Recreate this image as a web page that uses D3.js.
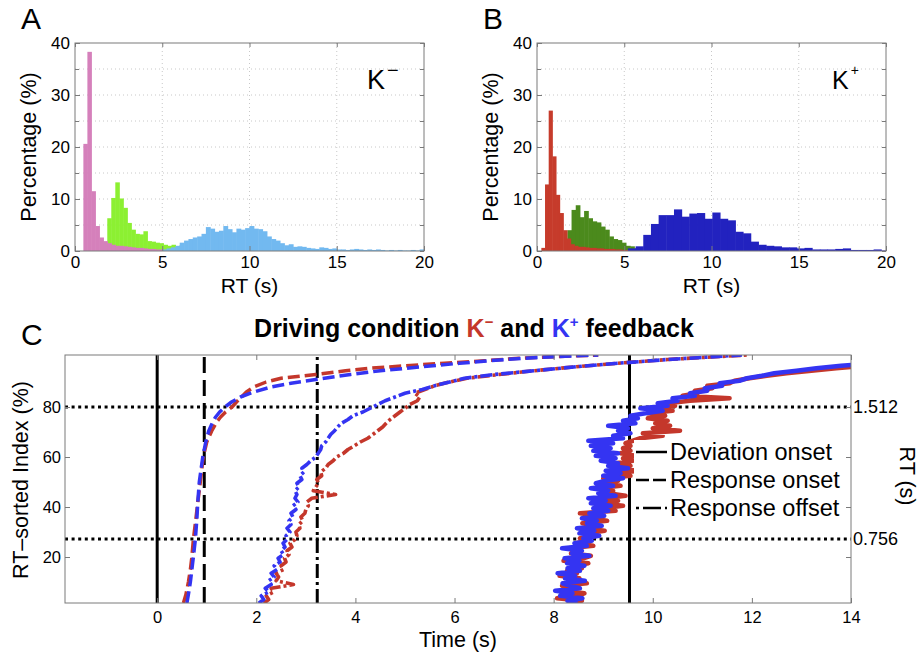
<!DOCTYPE html>
<html><head><meta charset="utf-8">
<script src="https://cdn.jsdelivr.net/npm/d3@7"></script>
<style>body{margin:0;background:#fff}text{font-family:'Liberation Sans',Arial,Helvetica,sans-serif}</style>
</head><body>
<svg id="c" width="919" height="657"></svg>
<script>
// ================= DATA =================
const histTicksX = [0, 5, 10, 15, 20];
const histTicksY = [0, 10, 20, 30, 40];
const histMinorY = [5, 15, 25, 35];

// Panel A  (K-)  — RT histograms, percentage per bin
const aPinkStart = 0.48, aPinkWidth = 0.23;
const aPinkPct = [20.6, 38.3, 11.5, 4.8, 2.6, 1.9, 1.5, 1.2, 1.0, 1.0, 0.9, 0.8, 0.7, 0.6, 0.6, 0.5, 0.4, 0.4, 0.3, 0.3, 0.2, 0.2];
const aGreenStart = 1.62, aGreenWidth = 0.23;
const aGreenPct = [1.5, 6.3, 10.2, 13.2, 10.1, 8.3, 5.4, 4.1, 3.3, 3.2, 3.8, 1.9, 1.8, 1.6, 1.5, 1.2, 1.0, 1.2, 0.8, 1.1];
const aBlueStart = 5.0, aBlueWidth = 0.25;
const aBluePct = [0.3, 0.5, 0.7, 1.0, 1.6, 2.0, 2.3, 2.6, 2.8, 3.3, 4.6, 4.3, 3.7, 3.9, 4.8, 4.2, 3.6, 4.3, 4.1, 4.4,
  4.8, 4.3, 4.2, 3.8, 2.8, 2.3, 2.0, 1.5, 1.1, 1.3, 0.8, 0.9, 0.8, 0.6, 0.5, 0.4, 0.7, 0.6, 0.4, 0.5,
  0.3, 0.3, 0.2, 0.3, 0.4, 0.3, 0.2, 0.3, 0.2, 0.3, 0.2, 0.1, 0.2, 0.1, 0.2, 0.1, 0.1, 0.2, 0.1, 0.3];

// Panel B  (K+)
const bRedStart = 0.25, bRedWidth = 0.21;
const bRedPct = [0.6, 12.8, 27.0, 18.2, 10.8, 7.3, 4.0, 2.4, 1.3, 1.0, 0.8, 0.8, 0.7, 0.6, 0.6, 0.5, 0.5, 0.4, 0.4, 0.4, 0.3, 0.3, 0.2, 0.2];
const bGreenStart = 1.74, bGreenWidth = 0.24;
const bGreenPct = [4.0, 7.9, 8.8, 6.5, 7.7, 6.3, 5.7, 5.5, 4.7, 4.1, 2.8, 2.3, 2.1, 1.6, 1.0, 0.9, 0.5];
const bBlueStart = 5.21, bBlueWidth = 0.44;
const bBluePct = [0.5, 0.9, 3.1, 5.2, 6.9, 6.9, 8.0, 6.6, 7.2, 7.3, 6.2, 7.4, 6.2, 5.9, 3.7, 3.4, 1.8, 1.2, 1.0, 0.9,
  0.7, 0.7, 0.5, 0.6, 0.3, 0.3, 0.3, 0.4, 0.5, 0.2, 0.2, 0.2, 0.3, 0.1];

// Panel C
const cTicksX = [0, 2, 4, 6, 8, 10, 12, 14];
const cTicksY = [20, 40, 60, 80];
const cThreshIdx = [80, 27.2];
const cThreshRT = ["1.512", "0.756"];
const devOnsetLines = [0, 9.53];
const respOnsetLines = [0.95];
const respOffsetLines = [3.23];
const legendLabels = ["Deviation onset", "Response onset", "Response offset"];

// curves: [time (s), RT-sorted index (%)]
const onsetRed = [[0.53,1.6],[0.58,5],[0.63,10],[0.67,15],[0.70,20],[0.73,27],[0.78,35],[0.82,42],[0.87,50],[0.93,60],[1.0,66],[1.1,70.4],[1.2,74],[1.28,76],[1.38,78],[1.51,80],[1.6,82],[1.7,84],[1.8,86],[1.95,88],[2.2,90],[2.5,91.5],[3.2,93],[3.8,94.5],[4.3,95.5],[5.0,96.5],[5.8,97.5],[6.6,98.5],[7.3,99.5],[8.1,100.2],[8.9,100.8]];
const onsetBlue = [[0.6,1.6],[0.63,5],[0.67,10],[0.70,15],[0.73,20],[0.77,27],[0.80,35],[0.82,42],[0.85,50],[0.92,60],[0.98,66],[1.04,70.4],[1.12,74],[1.18,76],[1.26,78],[1.37,80],[1.5,82],[1.68,84],[1.95,86],[2.3,88],[2.7,89.5],[3.2,91],[3.9,93],[4.5,94.5],[5.3,96],[6.1,97.5],[6.7,98.5],[7.4,99.5],[8.1,100.2],[8.9,100.8]];

const offsetRed = [[2.15,1.5],[2.25,3],[2.2,4.5],[2.35,6],[2.3,7.5],[2.75,9],[2.4,10.5],[2.45,12],[2.4,13.5],[2.55,15],[2.5,16.5],[2.6,18],[2.57,19.5],[2.66,21],[2.62,22.5],[2.72,24],[2.68,25.5],[2.78,27],[2.82,28.5],[2.8,30],[2.88,31.5],[2.86,33],[2.94,34.5],[2.9,36],[2.98,37.5],[3.0,39],[3.05,40.5],[3.02,42],[3.12,43.5],[3.6,45],[3.15,46.5],[3.2,48],[3.26,49.5],[3.22,51],[3.32,52.5],[3.3,54],[3.4,55.5],[3.45,57],[3.55,58.5],[3.62,60],[3.76,61.5],[3.85,63],[3.98,64.5],[4.1,66],[4.25,67.5],[4.35,69],[4.45,70.5],[4.55,72],[4.62,73.5],[4.7,75],[4.8,76.5],[4.9,78],[5.0,79.5],[5.1,81],[5.25,82.5],[5.3,84],[5.2,85.5],[5.4,87],[5.6,88.5],[5.9,90],[6.25,91.5],[6.9,93],[7.6,94.5],[8.4,96],[9.3,97.5],[10.3,99],[11.9,100.8]];
const offsetBlue = [[2.05,1.5],[2.15,3],[2.1,4.5],[2.25,6],[2.18,7.5],[2.3,9],[2.25,10.5],[2.36,12],[2.3,13.5],[2.42,15],[2.36,16.5],[2.48,18],[2.44,19.5],[2.55,21],[2.5,22.5],[2.58,24],[2.54,25.5],[2.62,27],[2.6,28.5],[2.68,30],[2.62,31.5],[2.7,33],[2.66,34.5],[2.74,36],[2.7,37.5],[2.8,39],[2.74,40.5],[2.84,42],[2.78,43.5],[2.82,45],[2.78,46.5],[2.86,48],[2.82,49.5],[2.92,51],[2.88,52.5],[2.96,54],[2.92,55.5],[3.02,57],[3.1,58.5],[3.2,60],[3.25,61.5],[3.3,63],[3.32,64.5],[3.4,66],[3.45,67.5],[3.5,69],[3.58,70.5],[3.64,72],[3.72,73.5],[3.85,75],[3.95,76.5],[4.15,78],[4.3,79.5],[4.45,81],[4.6,82.5],[4.8,84],[5.0,85.5],[5.35,87],[5.6,88.5],[5.9,90],[6.2,91.5],[6.8,93],[7.6,94.5],[8.4,96],[9.3,97.5],[10.3,99],[11.8,100.8]];

const devRed = [[8.27,1.5],[8.57,2.5],[8.07,3.5],[8.47,4.5],[8.62,5.5],[8.22,6.5],[8.42,7.5],[8.17,8.5],[8.67,9.5],[8.32,10.5],[8.52,11.5],[8.12,12.5],[8.47,13.5],[8.27,14.5],[8.57,15.5],[8.4,16.5],[8.7,17.5],[8.2,18.5],[8.6,19.5],[8.75,20.5],[8.35,21.5],[8.55,22.5],[8.3,23.5],[8.8,24.5],[8.45,25.5],[8.65,26.5],[8.53,27.5],[8.88,28.5],[8.68,29.5],[9.03,30.5],[8.63,31.5],[8.83,32.5],[8.58,33.5],[9.08,34.5],[8.73,35.5],[8.93,36.5],[8.53,37.5],[9.25,38.5],[9.0,39.5],[9.4,40.5],[8.95,41.5],[9.3,42.5],[9.05,43.5],[9.45,44.5],[9.1,45.5],[9.2,46.5],[8.9,47.5],[9.35,48.5],[9.05,49.5],[9.3,50.5],[9.0,51.5],[9.55,52.5],[9.3,53.5],[9.7,54.5],[9.35,55.5],[9.55,56.5],[9.25,57.5],[9.6,58.5],[9.4,59.5],[9.65,60.5],[9.35,61.5],[9.55,62.5],[9.4,63.5],[9.55,64.5],[9.45,65.5],[9.6,66.5],[9.75,67.5],[10.2,68.5],[9.8,69.5],[10.55,70.5],[10.0,71.5],[10.35,72.5],[10.05,73.5],[10.3,74.5],[9.9,75.5],[10.25,76.5],[9.9,77.5],[10.4,78.5],[10.0,79.5],[10.45,80.5],[10.3,81.5],[10.75,82.5],[11.55,83.5],[10.6,84.5],[10.9,85.5],[10.85,86.5],[11.2,87.5],[11.1,88.5],[11.55,89.5],[11.65,90.5],[11.95,91.5],[12.3,92.5],[12.7,93.5],[13.2,94.5],[13.7,95.5],[14.3,96.5]];
const devBlue = [[8.48,1.5],[8.28,2.5],[8.58,3.5],[8.13,4.5],[8.38,5.5],[8.03,6.5],[8.53,7.5],[8.33,8.5],[8.18,9.5],[8.63,10.5],[8.23,11.5],[8.43,12.5],[8.08,13.5],[8.53,14.5],[8.28,15.5],[8.62,16.5],[8.27,17.5],[8.52,18.5],[8.22,19.5],[8.72,20.5],[8.37,21.5],[8.57,22.5],[8.17,23.5],[8.67,24.5],[8.42,25.5],[8.77,26.5],[8.6,27.5],[8.92,28.5],[8.52,29.5],[8.82,30.5],[8.47,31.5],[8.97,32.5],[8.67,33.5],[8.87,34.5],[8.57,35.5],[9.02,36.5],[8.72,37.5],[9.1,38.5],[8.8,39.5],[9.15,40.5],[8.75,41.5],[9.05,42.5],[8.7,43.5],[9.25,44.5],[8.9,45.5],[9.1,46.5],[8.75,47.5],[9.2,48.5],[8.85,49.5],[9.05,50.5],[9.4,51.5],[9.0,52.5],[9.35,53.5],[9.05,54.5],[9.5,55.5],[9.1,56.5],[9.3,57.5],[8.95,58.5],[9.25,59.5],[8.85,60.5],[9.3,61.5],[8.8,62.5],[9.15,63.5],[8.75,64.5],[9.2,65.5],[8.7,66.5],[9.4,67.5],[9.2,68.5],[9.55,69.5],[9.3,70.5],[9.5,71.5],[9.1,72.5],[9.65,73.5],[9.4,74.5],[9.7,75.5],[9.55,76.5],[9.85,77.5],[10.2,78.5],[9.75,79.5],[10.3,80.5],[10.1,81.5],[10.5,82.5],[10.4,83.5],[10.85,84.5],[10.75,85.5],[11.1,86.5],[11.05,87.5],[11.4,88.5],[11.35,89.5],[11.75,90.5],[11.9,91.5],[12.2,92.5],[12.45,93.5],[12.9,94.5],[13.3,95.5],[13.8,96.5],[14.4,97.5]];

// ================= DRAW =================
const svg = d3.select("#c");
const GREY = "#7a7a7a";
const C_RED = "#c4372b", C_BLUE = "#3434f2";

function histPanel(x0, x1, id, series, label, sup, supDy, supSize, kFont, kx) {
  const x = d3.scaleLinear().domain([0, 20]).range([x0, x1]);
  const y = d3.scaleLinear().domain([0, 40]).range([251, 43]);
  const g = svg.append("g");
  g.append("clipPath").attr("id", id).append("rect")
    .attr("x", x0).attr("y", 43).attr("width", x1 - x0).attr("height", 208);
  const grid = g.append("g").attr("stroke", "#c8c8c8").attr("stroke-width", 1).attr("stroke-dasharray", "1,3");
  grid.selectAll(null).data([5, 10, 15]).enter().append("line")
    .attr("x1", d => x(d)).attr("x2", d => x(d)).attr("y1", y(40)).attr("y2", y(0));
  grid.selectAll(null).data([5, 10, 15, 20, 25, 30, 35]).enter().append("line")
    .attr("x1", x(0)).attr("x2", x(20)).attr("y1", d => y(d)).attr("y2", d => y(d));
  const bars = g.append("g").attr("clip-path", `url(#${id})`);
  series.forEach(s => {
    bars.append("g").selectAll("rect").data(s.values).enter().append("rect")
      .attr("x", (d, i) => x(s.start + i * s.width))
      .attr("width", (d, i) => x(s.start + (i + 1) * s.width) - x(s.start + i * s.width) + 0.5)
      .attr("y", d => y(d)).attr("height", d => y(0) - y(d))
      .attr("fill", s.color);
  });
  g.append("rect").attr("x", x0).attr("y", 43).attr("width", x1 - x0).attr("height", 208)
    .attr("fill", "none").attr("stroke", GREY).attr("stroke-width", 1);
  const ax = g.append("g").attr("transform", `translate(0,${y(0)})`)
    .call(d3.axisBottom(x).tickValues(histTicksX).tickSizeInner(-5).tickSizeOuter(0).tickPadding(5));
  const ay = g.append("g").attr("transform", `translate(${x0},0)`)
    .call(d3.axisLeft(y).tickValues(histTicksY).tickSizeInner(-5).tickSizeOuter(0).tickPadding(5));
  const ay2 = g.append("g").attr("transform", `translate(${x0},0)`)
    .call(d3.axisLeft(y).tickValues(histMinorY).tickFormat("").tickSizeInner(-4).tickSizeOuter(0));
  const ar = g.append("g").attr("transform", `translate(${x1},0)`)
    .call(d3.axisRight(y).tickValues(histTicksY.concat(histMinorY)).tickFormat("").tickSizeInner(-4).tickSizeOuter(0));
  const at = g.append("g").attr("transform", `translate(0,${y(40)})`)
    .call(d3.axisTop(x).tickValues(histTicksX).tickFormat("").tickSizeInner(-4).tickSizeOuter(0));
  [ax, ay, ay2, ar, at].forEach(a => {
    a.select(".domain").remove();
    a.selectAll("line").attr("stroke", GREY);
    a.selectAll("text").attr("fill", "#000").attr("font-size", 17).attr("font-family", null);
  });
  g.append("text").attr("x", (x0 + x1) / 2).attr("y", 293).attr("text-anchor", "middle")
    .attr("font-size", 21).text("RT (s)");
  g.append("text").attr("transform", `translate(${x0 - 39.5},147) rotate(-90)`).attr("text-anchor", "middle")
    .attr("font-size", 21.5).text("Percentage (%)");
  g.append("text").attr("x", x0 - 54).attr("y", 29).attr("font-size", 30).text(label);
  const k = g.append("text").attr("x", kx).attr("y", 89).attr("font-size", kFont);
  k.append("tspan").text("K");
  k.append("tspan").attr("dy", supDy).attr("dx", 2).attr("font-size", supSize).text(sup);
}

histPanel(75, 424, "clipA", [
  { start: aGreenStart, width: aGreenWidth, values: aGreenPct, color: "#8cf032" },
  { start: aPinkStart, width: aPinkWidth, values: aPinkPct, color: "#d580bb" },
  { start: aBlueStart, width: aBlueWidth, values: aBluePct, color: "#72b9f0" }
], "A", "\u2212", -12, 20, 27, 367);

histPanel(537, 886, "clipB", [
  { start: bGreenStart, width: bGreenWidth, values: bGreenPct, color: "#4b8a1c" },
  { start: bRedStart, width: bRedWidth, values: bRedPct, color: "#c63b2b" },
  { start: bBlueStart, width: bBlueWidth, values: bBluePct, color: "#2222bf" }
], "B", "+", -14, 14, 25, 832);

// ---------- Panel C ----------
const cx = d3.scaleLinear().domain([-1.86, 14]).range([65, 851]);
const cy = d3.scaleLinear().domain([1.6, 100.8]).range([603, 355]);
const gc = svg.append("g");
gc.append("clipPath").attr("id", "clipC").append("rect")
  .attr("x", 65).attr("y", 355).attr("width", 786).attr("height", 248);

const title = svg.append("text").attr("x", 474).attr("y", 337).attr("text-anchor", "middle")
  .attr("font-weight", "bold").attr("font-size", 25);
title.append("tspan").text("Driving condition ");
title.append("tspan").attr("fill", C_RED).text("K");
title.append("tspan").attr("fill", C_RED).attr("font-size", 15).attr("dy", -10).text("\u2212");
title.append("tspan").attr("dy", 10).text(" and ");
title.append("tspan").attr("fill", C_BLUE).text("K");
title.append("tspan").attr("fill", C_BLUE).attr("font-size", 15).attr("dy", -10).text("+");
title.append("tspan").attr("dy", 10).text(" feedback");
svg.append("text").attr("x", 21).attr("y", 345).attr("font-size", 30).text("C");

const plot = gc.append("g").attr("clip-path", "url(#clipC)");
plot.selectAll(null).data(cThreshIdx).enter().append("line")
  .attr("x1", cx(-1.86)).attr("x2", cx(14)).attr("y1", d => cy(d)).attr("y2", d => cy(d))
  .attr("stroke", "#000").attr("stroke-width", 3).attr("stroke-dasharray", "3,3.6");
plot.selectAll(null).data(devOnsetLines).enter().append("line")
  .attr("x1", d => cx(d)).attr("x2", d => cx(d)).attr("y1", cy(1.6)).attr("y2", cy(100.8))
  .attr("stroke", "#000").attr("stroke-width", 3);
plot.selectAll(null).data(respOnsetLines).enter().append("line")
  .attr("x1", d => cx(d)).attr("x2", d => cx(d)).attr("y1", cy(1.6)).attr("y2", cy(100.8))
  .attr("stroke", "#000").attr("stroke-width", 3).attr("stroke-dasharray", "16,7");
plot.selectAll(null).data(respOffsetLines).enter().append("line")
  .attr("x1", d => cx(d)).attr("x2", d => cx(d)).attr("y1", cy(1.6)).attr("y2", cy(100.8))
  .attr("stroke", "#000").attr("stroke-width", 3).attr("stroke-dasharray", "14,4,3,4");

const line = d3.line().x(d => cx(d[0])).y(d => cy(d[1]));
function curve(data, color, w, dash) {
  const p = plot.append("path").datum(data).attr("d", line).attr("fill", "none")
    .attr("stroke", color).attr("stroke-width", w).attr("stroke-linejoin", "round").attr("stroke-linecap", "butt");
  if (dash) p.attr("stroke-dasharray", dash);
}
curve(devRed, C_RED, 4.5);
curve(devBlue, C_BLUE, 4.5);
curve(offsetRed, C_RED, 3.6, "12,3,3,3");
curve(offsetBlue, C_BLUE, 3.6, "12,3,3,3");
curve(onsetRed, C_RED, 3.5, "12,5");
curve(onsetBlue, C_BLUE, 3.5, "12,5");

gc.append("rect").attr("x", 65).attr("y", 355).attr("width", 786).attr("height", 248)
  .attr("fill", "none").attr("stroke", GREY).attr("stroke-width", 1);
const cax = gc.append("g").attr("transform", `translate(0,${cy(1.6)})`)
  .call(d3.axisBottom(cx).tickValues(cTicksX).tickSizeInner(-5).tickSizeOuter(0).tickPadding(8));
const catop = gc.append("g").attr("transform", `translate(0,${cy(100.8)})`)
  .call(d3.axisTop(cx).tickValues(cTicksX).tickFormat("").tickSizeInner(-5).tickSizeOuter(0));
const cay = gc.append("g").attr("transform", `translate(${cx(-1.86)},0)`)
  .call(d3.axisLeft(cy).tickValues(cTicksY).tickSizeInner(-5).tickSizeOuter(0).tickPadding(4));
const car = gc.append("g").attr("transform", `translate(${cx(14)},0)`)
  .call(d3.axisRight(cy).tickValues(cTicksY).tickFormat("").tickSizeInner(-5).tickSizeOuter(0));
[cax, catop, cay, car].forEach(a => {
  a.select(".domain").remove();
  a.selectAll("line").attr("stroke", GREY);
  a.selectAll("text").attr("fill", "#000").attr("font-size", 16.5).attr("font-family", null);
});
gc.selectAll(null).data(cThreshIdx).enter().append("text")
  .attr("x", cx(14) + 2).attr("y", d => cy(d)).attr("dy", "0.35em")
  .attr("font-size", 18).text((d, i) => cThreshRT[i]);

gc.append("text").attr("x", (cx(-1.86) + cx(14)) / 2).attr("y", 647).attr("text-anchor", "middle")
  .attr("font-size", 21.5).text("Time (s)");
gc.append("text").attr("transform", "translate(28,480) rotate(-90)").attr("text-anchor", "middle")
  .attr("font-size", 21.5).text("RT\u2013sorted Index (%)");
gc.append("text").attr("transform", "translate(900,476) rotate(90)").attr("text-anchor", "middle")
  .attr("font-size", 21.5).text("RT (s)");

const lg = gc.append("g");
lg.append("rect").attr("x", 634).attr("y", 440).attr("width", 206).attr("height", 82).attr("fill", "#fff");
const legendDash = [null, "13,4", "3,4,18,4"];
legendLabels.forEach((t, i) => {
  const yy = 452 + i * 28;
  const l = lg.append("line").attr("x1", 636).attr("x2", 667).attr("y1", yy).attr("y2", yy)
    .attr("stroke", "#000").attr("stroke-width", 2.5);
  if (legendDash[i]) l.attr("stroke-dasharray", legendDash[i]);
  lg.append("text").attr("x", 670).attr("y", yy).attr("dy", "0.36em").attr("font-size", 23.5).text(t);
});
</script>
</body></html>
